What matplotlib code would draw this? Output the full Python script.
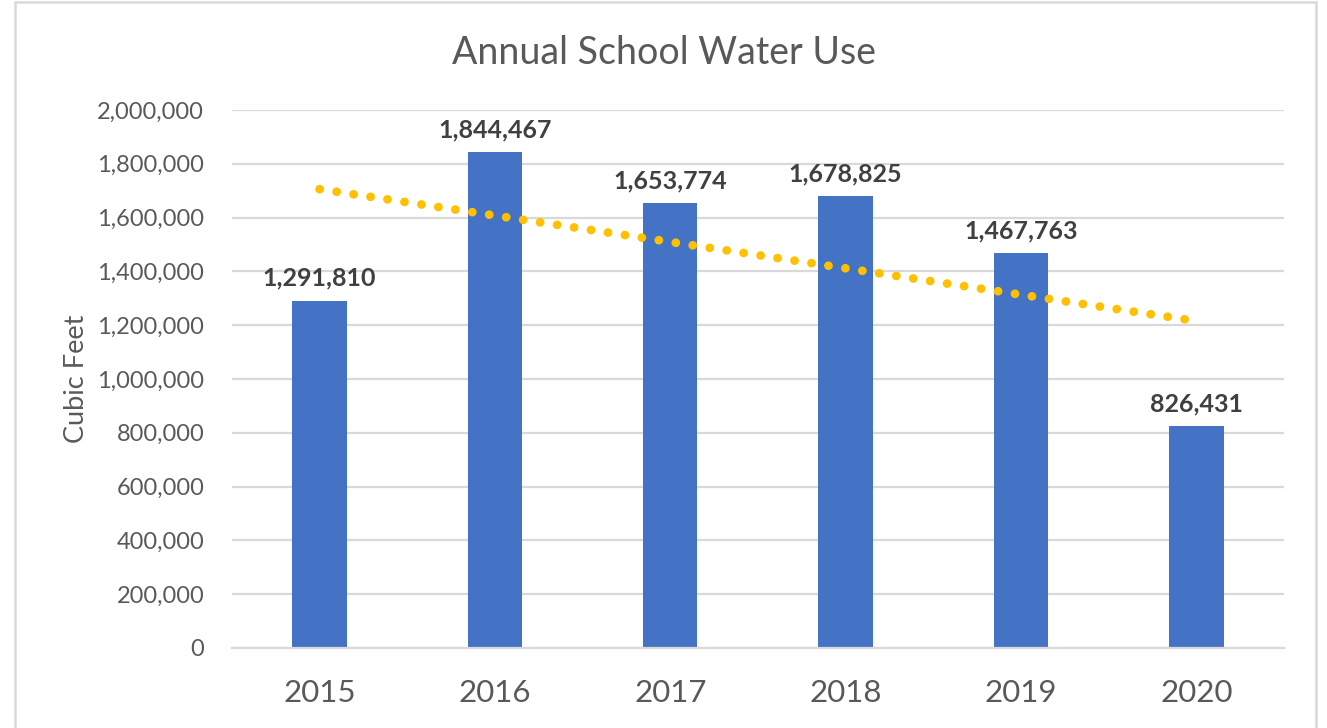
import numpy as np
import matplotlib
matplotlib.use("Agg")
import matplotlib.pyplot as plt
from matplotlib.patches import Rectangle
from matplotlib.ticker import FuncFormatter

# data
years = ["2015", "2016", "2017", "2018", "2019", "2020"]
water_use = [1291810, 1844467, 1653774, 1678825, 1467763, 826431]
yticks = list(range(0, 2000001, 200000))

plt.rcParams['font.family'] = ['Lato', 'DejaVu Sans']
txtcol = "#595959"
gridcol = "#D9D9D9"

fig = plt.figure(figsize=(13.27, 7.28), dpi=100)
ax = fig.add_axes([0.1748, 0.1099, 0.7928, 0.739])

x = np.arange(len(years))
ax.bar(x, water_use, width=0.31, color="#4472C4", zorder=2)

# linear trendline, like excel's
slope, icpt = np.polyfit(x, water_use, 1)
ax.plot(x, slope * x + icpt, color="#FFC000", lw=6.3,
        linestyle=(0, (0.01, 1.95)), dash_capstyle="round", zorder=3)

for xi, v in zip(x, water_use):
    ax.text(xi, v + 40000, f"{v:,}", ha="center", va="bottom",
            fontsize=18, fontweight="bold", color="#404040")

ax.set_xlim(-0.5, 5.5)
ax.set_ylim(0, 2000000)
ax.set_yticks(yticks)
ax.yaxis.set_major_formatter(FuncFormatter(lambda v, p: f"{int(v):,}"))
ax.set_xticks(x)
ax.set_xticklabels(years)
ax.tick_params(axis="y", length=0, labelsize=17, labelcolor=txtcol, pad=20)
ax.tick_params(axis="x", length=0, labelsize=22.5, labelcolor=txtcol, pad=22)
ax.grid(axis="y", color=gridcol, lw=1.6, zorder=0)
ax.set_axisbelow(True)
for s in ["top", "right", "left"]:
    ax.spines[s].set_visible(False)
ax.spines["bottom"].set_color(gridcol)
ax.spines["bottom"].set_linewidth(1.6)

ax.set_ylabel("Cubic Feet", fontsize=19.5, color=txtcol, labelpad=6)
fig.text(0.5, 0.927, "Annual School Water Use", ha="center", va="center",
         fontsize=27, color=txtcol)

# chart border
fig.patches.append(Rectangle((15 / 1327, -0.05), 1301 / 1327, 1.05 - 2 / 728,
                             transform=fig.transFigure, fill=False,
                             edgecolor=gridcol, lw=1.8))

fig.savefig("out.png", dpi=100)
